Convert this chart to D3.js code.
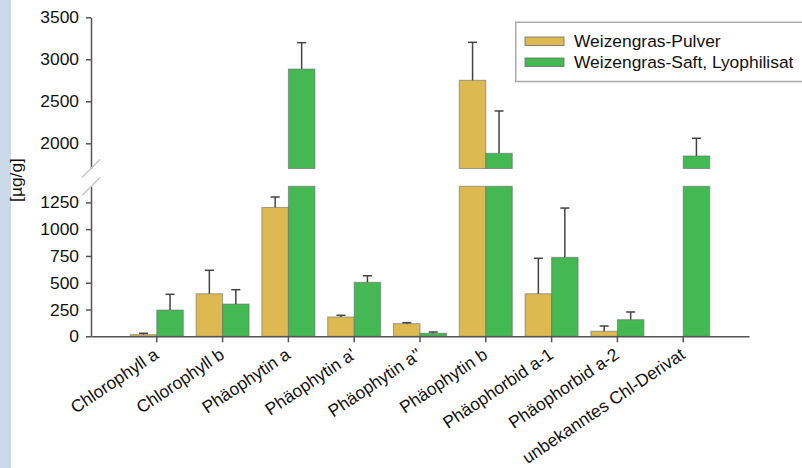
<!DOCTYPE html>
<html>
<head>
<meta charset="utf-8">
<script src="https://cdn.jsdelivr.net/npm/d3@7/dist/d3.min.js"></script>
<style>
  html, body { margin: 0; padding: 0; background: #fff; }
  svg { display: block; font-family: "Liberation Sans", Arial, sans-serif; }
</style>
</head>
<body>
<script>
const categories = ["Chlorophyll a", "Chlorophyll b", "Phäophytin a", "Phäophytin a'", "Phäophytin a''",
  "Phäophytin b", "Phäophorbid a-1", "Phäophorbid a-2", "unbekanntes Chl-Derivat"];
const seriesNames = ["Weizengras-Pulver", "Weizengras-Saft, Lyophilisat"];
const pulver    = [15, 397, 1203, 180, 118, 2750, 397, 47, null];
const pulverErr = [13, 219, 97, 16, 9, 452, 331, 49, null];
const saft      = [245, 301, 2884, 504, 28, 1881, 737, 155, 1849];
const saftErr   = [147, 134, 314, 61, 12, 504, 460, 72, 211];
const lowerTicks = [0, 250, 500, 750, 1000, 1250];
const upperTicks = [2000, 2500, 3000, 3500];
const colors = ["#DDB952", "#43B853"];

const W = 802, H = 468;
const FS = "17.4px";
const svg = d3.select("body").append("svg").attr("width", W).attr("height", H);
svg.append("rect").attr("x", 0).attr("y", 0).attr("width", 11).attr("height", H).attr("fill", "#CADAEB");

const x = d3.scaleBand().domain(categories).range([91, 749]).paddingInner(0.195).paddingOuter(0.5975);
const yLow = d3.scaleLinear().domain([0, 1400]).range([336.3, 186.3]);
const yUp = d3.scaleLinear().domain([1700, 3500]).range([168.5, 17.3]);
const LOW_MAX = 1400, UP_MIN = 1700;

const axisColor = "#555";
function styleAxis(g) {
  g.selectAll("path.domain").attr("stroke", axisColor).attr("stroke-width", 1.5);
  g.selectAll(".tick line").attr("stroke", axisColor).attr("stroke-width", 1.5);
  g.selectAll(".tick text").attr("fill", "#111").style("font-size", FS).style("font-family", "'Liberation Sans', Arial, sans-serif");
}

// y axes
const fmt = d3.format("d");
const gLow = svg.append("g").attr("transform", "translate(91,0)")
  .call(d3.axisLeft(yLow).tickValues(lowerTicks).tickFormat(fmt).tickSize(5).tickSizeOuter(0).tickPadding(7));
styleAxis(gLow);
const gUp = svg.append("g").attr("transform", "translate(91,0)")
  .call(d3.axisLeft(yUp).tickValues(upperTicks).tickFormat(fmt).tickSize(5).tickSizeOuter(0).tickPadding(7));
styleAxis(gUp);

// break marks
[168.5, 186.5].forEach(yy => {
  svg.append("line").attr("x1", 91 - 9).attr("y1", yy + 9).attr("x2", 91 + 9).attr("y2", yy - 9)
    .attr("stroke", "#c8c8c8").attr("stroke-width", 1.5);
});

// bars
const bw = x.bandwidth() / 2;
const series = [
  { vals: pulver, errs: pulverErr, off: 0, color: colors[0] },
  { vals: saft, errs: saftErr, off: bw, color: colors[1] }
];
const gBars = svg.append("g");
function bar(x0, y0, y1, color) {
  gBars.append("rect").attr("x", x0).attr("width", bw)
    .attr("y", y0).attr("height", y1 - y0)
    .attr("fill", color).attr("stroke", "#6b6b6b").attr("stroke-opacity", 0.6).attr("stroke-width", 1);
}
series.forEach(s => {
  categories.forEach((c, i) => {
    const v = s.vals[i];
    if (v == null) return;
    const x0 = x(c) + s.off;
    if (v <= LOW_MAX) {
      bar(x0, yLow(v), yLow(0), s.color);
    } else {
      bar(x0, yLow(LOW_MAX), yLow(0), s.color);
      bar(x0, yUp(v), yUp(UP_MIN), s.color);
    }
  });
});

// error bars
const gErr = svg.append("g");
series.forEach(s => {
  categories.forEach((c, i) => {
    const v = s.vals[i], e = s.errs[i];
    if (v == null || e == null) return;
    const cx = x(c) + s.off + bw / 2;
    const top = v + e;
    const yScale = v <= LOW_MAX ? yLow : yUp;
    gErr.append("line").attr("x1", cx).attr("x2", cx).attr("y1", yScale(v)).attr("y2", yScale(top))
      .attr("stroke", "#444").attr("stroke-width", 1.5);
    gErr.append("line").attr("x1", cx - 4.5).attr("x2", cx + 4.5).attr("y1", yScale(top)).attr("y2", yScale(top))
      .attr("stroke", "#444").attr("stroke-width", 1.5);
  });
});

// x axis
const gX = svg.append("g").attr("transform", `translate(0,${yLow(0)})`)
  .call(d3.axisBottom(x).tickSize(6).tickSizeOuter(0));
gX.select("path.domain").attr("stroke", axisColor).attr("stroke-width", 1.5);
gX.selectAll(".tick line").attr("stroke", axisColor).attr("stroke-width", 1.5);
gX.selectAll(".tick text").remove();
gX.selectAll(".tick").append("text")
  .attr("transform", "translate(3,21) rotate(-34)")
  .attr("text-anchor", "end")
  .attr("fill", "#111")
  .style("font-size", FS)
  .text(d => d);

// y label
svg.append("text").attr("transform", "translate(22,180) rotate(-90)")
  .attr("text-anchor", "middle").attr("fill", "#111").style("font-size", FS).text("[µg/g]");

// legend
const lg = svg.append("g");
lg.append("rect").attr("x", 515.7).attr("y", 22.3).attr("width", 300).attr("height", 59.2)
  .attr("fill", "#fff").attr("stroke", "#aaa").attr("stroke-width", 1.5);
seriesNames.forEach((n, i) => {
  const yy = 37 + i * 21;
  lg.append("rect").attr("x", 525).attr("y", yy).attr("width", 39).attr("height", 8.5)
    .attr("fill", colors[i]).attr("stroke", "#6b6b6b").attr("stroke-opacity", 0.8).attr("stroke-width", 1);
  lg.append("text").attr("x", 574).attr("y", yy + 9.8).attr("fill", "#111").style("font-size", FS).text(n);
});
</script>
</body>
</html>
